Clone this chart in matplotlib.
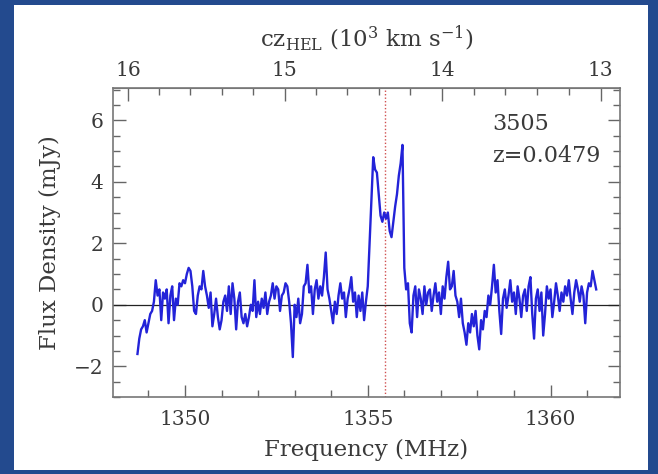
import numpy as np
import matplotlib
matplotlib.use("Agg")
import matplotlib.pyplot as plt
from matplotlib.patches import Rectangle
from matplotlib.ticker import MultipleLocator, FixedLocator

# HI spectrum, channels every 0.05 MHz starting at 1348.70 MHz
f_start = 1348.70
f_step = 0.05
flux = [
    -1.6, -1.1, -0.8, -0.7, -0.5, -0.9, -0.6, -0.3, -0.2, 0.1,
    0.8, 0.3, 0.5, -0.5, 0.4, 0.2, 0.5, -0.6, 0.3, 0.6,
    -0.5, 0.2, 0.0, 0.7, 0.6, 0.8, 0.7, 1.0, 1.2, 1.1,
    0.6, -0.2, -0.3, 0.3, 0.6, 0.5, 1.1, 0.6, 0.3, -0.1,
    0.4, -0.7, -0.3, 0.2, -0.4, -0.8, -0.5, 0.1, 0.3, -0.2,
    0.6, -0.3, 0.7, 0.2, -0.8, 0.1, 0.4, -0.4, -0.6, -0.3,
    -0.7, -0.4, 0.0, -0.2, 0.8, -0.4, 0.1, -0.3, 0.2, -0.1,
    0.4, -0.3, 0.1, 0.3, 0.7, 0.2, 0.6, 0.5, -0.2, 0.3,
    0.4, 0.7, 0.6, 0.1, -0.6, -1.7, 0.0, -0.4, 0.2, -0.6,
    -0.3, 0.6, 0.7, 1.3, 0.4, 0.6, -0.3, 0.5, 0.8, 0.2,
    0.6, 0.3, 0.9, 1.7, 0.5, 0.2, -0.2, -0.6, 0.1, -0.3,
    0.3, 0.7, 0.2, 0.4, -0.4, 0.2, 0.5, 0.9, 0.1, 0.4,
    -0.4, 0.3, -0.2, 0.4, -0.5, 0.1, 0.6, 2.0, 3.4, 4.8,
    4.4, 4.3, 3.6, 2.9, 2.7, 3.0, 2.8, 3.0, 2.4, 2.2,
    2.7, 3.2, 3.6, 4.2, 4.6, 5.2, 1.2, 0.5, 0.7, -0.6,
    -0.9, 0.3, 0.6, -0.4, 0.5, 0.2, -0.3, 0.6, 0.0, 0.4,
    0.5, -0.2, 0.3, 0.7, 0.1, 0.4, -0.3, 0.6, 0.2, 0.9,
    1.4, 0.5, 0.6, 1.1, 0.3, 0.1, -0.4, 0.2, -0.6, -0.9,
    -1.3, -0.6, -0.9, -0.3, -0.7, -0.2, -1.0, -1.45, -0.5, -0.8,
    -0.2, -0.4, 0.3, 0.0, 0.6, 1.3, 0.4, 0.8, -0.2, -0.95,
    0.2, 0.5, -0.1, 0.3, 0.8, 0.1, 0.4, -0.3, 0.6, 0.2,
    -0.4, 0.3, 0.5, -0.2, 0.6, 0.9, -0.3, -1.1, 0.2, 0.5,
    -0.2, 0.4, -1.0, -0.3, 0.6, 0.2, 0.5, -0.4, 0.1, 0.7,
    0.3, -0.2, 0.4, 0.1, 0.6, 0.3, 0.8, 0.2, -0.3, 0.4,
    0.8, 0.5, 0.1, 0.6, 0.3, -0.6, 0.4, 0.7, 0.6, 1.1,
    0.8, 0.5,
]
freq = f_start + f_step * np.arange(len(flux))

name = "3505"
z = 0.0479
cz_major = [13, 14, 15, 16]
cz_minor = [13.2, 13.4, 13.6, 13.8, 14.2, 14.4, 14.6, 14.8,
            15.2, 15.4, 15.6, 15.8]
f_rest = 1420.405751
c_kms = 299792.458

def f_to_cz(f):
    return c_kms * (f_rest / np.asarray(f, dtype=float) - 1.0) / 1000.0

def cz_to_f(cz):
    return f_rest / (1.0 + np.asarray(cz, dtype=float) * 1000.0 / c_kms)

txt = '#3a3a3a'
plt.rcParams['font.family'] = 'DejaVu Serif'
plt.rcParams['mathtext.fontset'] = 'dejavuserif'

fig = plt.figure(figsize=(6.58, 4.74), dpi=100)
fig.patch.set_facecolor('#234a8e')

# white slide panel behind the plot
bg = fig.add_axes([0, 0, 1, 1], zorder=-5)
bg.set_axis_off()
bg.add_patch(Rectangle((0.022, 0.008), 0.963, 0.981, transform=bg.transAxes,
                       facecolor='white', edgecolor='none'))

ax = fig.add_axes([0.1717, 0.1624, 0.7705, 0.6519], zorder=2)
ax.set_facecolor('white')

ax.plot(freq, flux, color='#2323d8', lw=1.7, zorder=3)
ax.axhline(0, color='#222222', lw=0.9, zorder=2)
ax.axvline(f_rest / (1 + z), color='#d05050', lw=1.0, ls=(0, (1, 1.5)), zorder=2)

ax.set_xlim(1348.03, 1361.9)
ax.set_ylim(-3, 7.05)

ax.xaxis.set_major_locator(MultipleLocator(5))
ax.xaxis.set_minor_locator(MultipleLocator(1))
ax.yaxis.set_major_locator(MultipleLocator(2))
ax.yaxis.set_minor_locator(MultipleLocator(0.5))
ax.tick_params(which='both', direction='in', colors='#666666', labelcolor=txt,
               labelsize=14.5, right=True)
ax.tick_params(which='major', length=9, width=1.0)
ax.tick_params(which='minor', length=5, width=1.0)
ax.tick_params(axis='x', pad=9)
ax.tick_params(axis='y', pad=7)
for s in ax.spines.values():
    s.set_color('#777777')
    s.set_linewidth(1.2)

ax.set_xlabel('Frequency (MHz)', fontsize=16.5, color=txt)
ax.set_ylabel('Flux Density (mJy)', fontsize=16.5, color=txt)
ax.xaxis.set_label_coords(0.5, -0.137)
ax.yaxis.set_label_coords(-0.102, 0.5)

top = ax.secondary_xaxis('top', functions=(f_to_cz, cz_to_f))
top.xaxis.set_major_locator(FixedLocator(cz_major))
top.xaxis.set_minor_locator(FixedLocator(cz_minor))
top.tick_params(which='both', direction='in', colors='#666666', labelcolor=txt,
                labelsize=14.5, pad=6)
top.tick_params(which='major', length=9, width=1.0)
top.tick_params(which='minor', length=5, width=1.0)
top.spines['top'].set_color('#777777')
top.set_xlabel(r'cz$_{\rm HEL}$ (10$^3$ km s$^{-1}$)', fontsize=16.5, color=txt,
               labelpad=10)

ax.text(0.7475, 0.864, name, transform=ax.transAxes, fontsize=16, color=txt, va='baseline')
ax.text(0.7475, 0.761, 'z=%.4f' % z, transform=ax.transAxes, fontsize=16, color=txt, va='baseline')

fig.savefig('out.png', dpi=100, facecolor=fig.get_facecolor())
